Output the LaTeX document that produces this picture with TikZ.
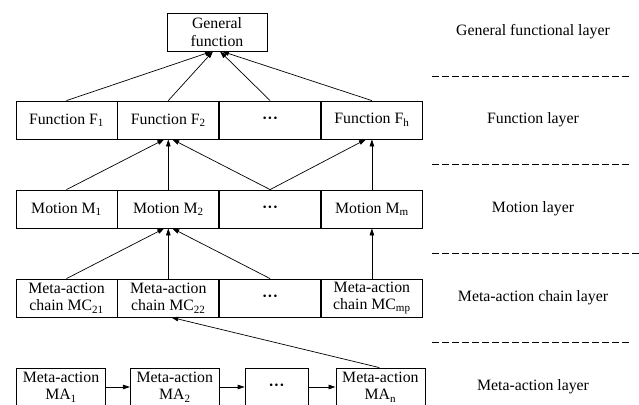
\documentclass[tikz,border=0pt]{standalone}
\usepackage{fontspec}
\setmainfont{Liberation Serif}
\usetikzlibrary{arrows.meta, positioning}

\newcommand{\threedots}{{\bfseries\textperiodcentered\kern0.2pt\textperiodcentered\kern0.2pt\textperiodcentered}}

\begin{document}
\begin{tikzpicture}[x=1pt,y=1pt,
      cell/.style={draw=black, line width=0.8pt, minimum width=101pt, minimum height=38pt, inner sep=0pt, align=center, font=\fontsize{15.8}{17.5}\selectfont},
      ma/.style={cell, minimum width=89pt},
      lay/.style={font=\fontsize{15.8}{17.5}\selectfont},
      arr/.style={line width=0.7pt, -{Triangle[length=7pt,width=4.5pt]}},
      dline/.style={line width=0.7pt, dash pattern=on 6.5pt off 3.5pt}]
      \useasboundingbox (0,0) rectangle (639,404);

      % general function
      \draw node[cell, minimum width=100pt] (gf) at (217,372) {General\\function};

      % function layer
      \draw node[cell] (f1) at (66.5,284) {Function F\textsubscript{1}};
      \draw node[cell, right=0pt of f1] (f2) {Function F\textsubscript{2}};
      \draw node[cell, right=0pt of f2] (fd) {\threedots};
      \draw node[cell, right=0pt of fd] (fh) {Function F\textsubscript{h}};

      % motion layer
      \draw node[cell] (m1) at (66.5,195) {Motion M\textsubscript{1}};
      \draw node[cell, right=0pt of m1] (m2) {Motion M\textsubscript{2}};
      \draw node[cell, right=0pt of m2] (md) {\threedots};
      \draw node[cell, right=0pt of md] (mm) {Motion M\textsubscript{m}};

      % meta-action chain layer
      \draw node[cell] (mc1) at (66.5,106) {Meta-action\\chain MC\textsubscript{21}};
      \draw node[cell, right=0pt of mc1] (mc2) {Meta-action\\chain MC\textsubscript{22}};
      \draw node[cell, right=0pt of mc2] (mcd) {\threedots};
      \draw node[cell, right=0pt of mcd] (mcp) {Meta-action\\chain MC\textsubscript{mp}};

      % meta-action layer
      \draw node[ma] (ma1) at (61,17) {Meta-action\\MA\textsubscript{1}};
      \draw node[ma, right=24pt of ma1] (ma2) {Meta-action\\MA\textsubscript{2}};
      \draw node[ma, minimum width=63pt, right=25pt of ma2] (mad) {\threedots};
      \draw node[ma, right=27pt of mad] (man) {Meta-action\\MA\textsubscript{n}};

      % links
      \draw[arr] (f1.north) -- ([xshift=-5pt]gf.south);
      \draw[arr] (f2.north) -- ([xshift=-4pt]gf.south);
      \draw[arr] (fd.north) -- ([xshift=3pt]gf.south);
      \draw[arr] (fh.north) -- ([xshift=5pt]gf.south);

      \draw[arr] (m1.north) -- ([xshift=-4pt]f2.south);
      \draw[arr] (m2.north) -- (f2.south);
      \draw[arr] (md.north) -- ([xshift=4pt]f2.south);
      \draw[arr] (md.north) -- ([xshift=-6pt]fh.south);
      \draw[arr] (mm.north) -- (fh.south);

      \draw[arr] (mc1.north) -- ([xshift=-4pt]m2.south);
      \draw[arr] (mc2.north) -- (m2.south);
      \draw[arr] (mcd.north) -- ([xshift=4pt]m2.south);
      \draw[arr] (mcp.north) -- (mm.south);

      \draw[arr] ([xshift=-1pt]man.north) -- ([xshift=3pt]mc2.south);
      \draw[arr] (ma1) -- (ma2);
      \draw[arr] (ma2) -- (mad);
      \draw[arr] (mad) -- (man);

      % layer names
      \node[lay] (l1) at (533,372) {General functional layer};
      \node[lay] (l2) at (533,284) {Function layer};
      \node[lay] (l3) at (533,195) {Motion layer};
      \node[lay] (l4) at (533,106) {Meta-action chain layer};
      \node[lay] (l5) at (533,17) {Meta-action layer};

      \draw[dline] (432,328) -- (632,328);
      \draw[dline] (432,240) -- (632,240);
      \draw[dline] (432,151) -- (639,151);
      \draw[dline] (432,62) -- (632,62);
    \end{tikzpicture}
\end{document}
